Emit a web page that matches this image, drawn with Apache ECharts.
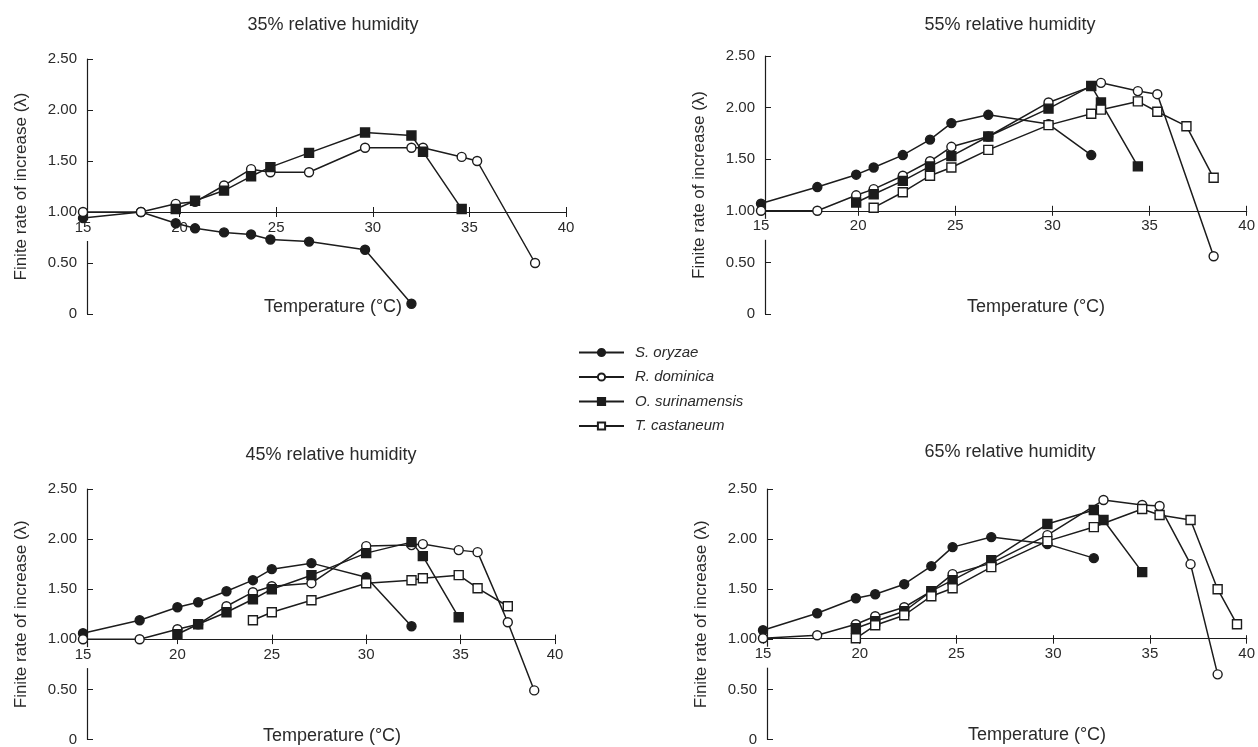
<!DOCTYPE html>
<html>
<head>
<meta charset="utf-8">
<title>Finite rate of increase</title>
<script src="https://cdn.jsdelivr.net/npm/echarts@6/dist/echarts.min.js"></script>
<style>
    html, body { margin: 0; background: #fff; }
    #chart { width: 1258px; height: 747px; }
</style>
</head>
<body>
<div id="chart"></div>
<script>
var species = ['S. oryzae', 'R. dominica', 'O. surinamensis', 'T. castaneum'];
var panelTitles = ['35% relative humidity', '55% relative humidity', '45% relative humidity', '65% relative humidity'];
var xTicks = [15, 20, 25, 30, 35, 40];
var yTicks = [0, 0.5, 1, 1.5, 2, 2.5];

// [temperature (°C), lambda]
var rh35_oryzae = [[15, 0.94], [18, 1.0], [19.8, 0.89], [20.8, 0.84], [22.3, 0.80], [23.7, 0.78], [24.7, 0.73], [26.7, 0.71], [29.6, 0.63], [32.0, 0.10]];
var rh35_dominica = [[15, 1.0], [18, 1.0], [19.8, 1.08], [20.8, 1.10], [22.3, 1.26], [23.7, 1.42], [24.7, 1.39], [26.7, 1.39], [29.6, 1.63], [32.0, 1.63], [32.6, 1.63], [34.6, 1.54], [35.4, 1.50], [38.4, 0.50]];
var rh35_surinamensis = [[19.8, 1.03], [20.8, 1.11], [22.3, 1.21], [23.7, 1.35], [24.7, 1.44], [26.7, 1.58], [29.6, 1.78], [32.0, 1.75], [32.6, 1.59], [34.6, 1.03]];
var rh35_castaneum = [];

var rh55_oryzae = [[15, 1.07], [17.9, 1.23], [19.9, 1.35], [20.8, 1.42], [22.3, 1.54], [23.7, 1.69], [24.8, 1.85], [26.7, 1.93], [29.8, 1.84], [32.0, 1.54]];
var rh55_dominica = [[15, 1.0], [17.9, 1.0], [19.9, 1.15], [20.8, 1.21], [22.3, 1.34], [23.7, 1.48], [24.8, 1.62], [26.7, 1.72], [29.8, 2.05], [32.5, 2.24], [34.4, 2.16], [35.4, 2.13], [38.3, 0.56]];
var rh55_surinamensis = [[19.9, 1.08], [20.8, 1.16], [22.3, 1.29], [23.7, 1.43], [24.8, 1.53], [26.7, 1.72], [29.8, 1.99], [32.0, 2.21], [32.5, 2.05], [34.4, 1.43]];
var rh55_castaneum = [[20.8, 1.03], [22.3, 1.18], [23.7, 1.34], [24.8, 1.42], [26.7, 1.59], [29.8, 1.83], [32.0, 1.94], [32.5, 1.98], [34.4, 2.06], [35.4, 1.96], [36.9, 1.82], [38.3, 1.32]];

var rh45_oryzae = [[15, 1.06], [18, 1.19], [20, 1.32], [21.1, 1.37], [22.6, 1.48], [24, 1.59], [25, 1.70], [27.1, 1.76], [30, 1.62], [32.4, 1.13]];
var rh45_dominica = [[15, 1.0], [18, 1.0], [20, 1.10], [21.1, 1.15], [22.6, 1.33], [24, 1.47], [25, 1.53], [27.1, 1.56], [30, 1.93], [32.4, 1.94], [33.0, 1.95], [34.9, 1.89], [35.9, 1.87], [37.5, 1.17], [38.9, 0.49]];
var rh45_surinamensis = [[20, 1.05], [21.1, 1.15], [22.6, 1.27], [24, 1.40], [25, 1.50], [27.1, 1.64], [30, 1.86], [32.4, 1.97], [33.0, 1.83], [34.9, 1.22]];
var rh45_castaneum = [[24, 1.19], [25, 1.27], [27.1, 1.39], [30, 1.56], [32.4, 1.59], [33.0, 1.61], [34.9, 1.64], [35.9, 1.51], [37.5, 1.33]];

var rh65_oryzae = [[15, 1.09], [17.8, 1.26], [19.8, 1.41], [20.8, 1.45], [22.3, 1.55], [23.7, 1.73], [24.8, 1.92], [26.8, 2.02], [29.7, 1.95], [32.1, 1.81]];
var rh65_dominica = [[15, 1.01], [17.8, 1.04], [19.8, 1.15], [20.8, 1.23], [22.3, 1.32], [23.7, 1.48], [24.8, 1.65], [26.8, 1.76], [29.7, 2.04], [32.6, 2.39], [34.6, 2.34], [35.5, 2.33], [37.1, 1.75], [38.5, 0.65]];
var rh65_surinamensis = [[19.8, 1.11], [20.8, 1.18], [22.3, 1.28], [23.7, 1.48], [24.8, 1.59], [26.8, 1.79], [29.7, 2.15], [32.1, 2.29], [32.6, 2.19], [34.6, 1.67]];
var rh65_castaneum = [[19.8, 1.01], [20.8, 1.14], [22.3, 1.24], [23.7, 1.43], [24.8, 1.51], [26.8, 1.72], [29.7, 1.98], [32.1, 2.12], [34.6, 2.30], [35.5, 2.24], [37.1, 2.19], [38.5, 1.50], [39.5, 1.15]];

var panelData = [
    [rh35_oryzae, rh35_dominica, rh35_surinamensis, rh35_castaneum],
    [rh55_oryzae, rh55_dominica, rh55_surinamensis, rh55_castaneum],
    [rh45_oryzae, rh45_dominica, rh45_surinamensis, rh45_castaneum],
    [rh65_oryzae, rh65_dominica, rh65_surinamensis, rh65_castaneum]
];

// grid boxes span x=15..40, y=0..2.5
var panels = [
    { left: 83, top: 59, width: 483, height: 255, titleX: 333, titleY: 25, nameX: 333, nameY: 307 },
    { left: 761, top: 56, width: 487, height: 258, titleX: 1010, titleY: 25, nameX: 1036, nameY: 307 },
    { left: 83, top: 489, width: 472, height: 251, titleX: 331, titleY: 455, nameX: 332, nameY: 736 },
    { left: 763, top: 489, width: 485, height: 252, titleX: 1010, titleY: 452, nameX: 1037, nameY: 735 }
];

var ink = '#1c1c1c';
var textInk = '#2a2a2a';
var fontFamily = '"Liberation Sans", Arial, sans-serif';

var markers = [
    { symbol: 'circle', fill: ink, size: 9 },
    { symbol: 'circle', fill: '#fff', size: 9 },
    { symbol: 'rect', fill: ink, size: 9 },
    { symbol: 'rect', fill: '#fff', size: 9 }
];

var grids = [], xAxes = [], yAxes = [], series = [], graphics = [];

panels.forEach(function (p, i) {
    grids.push({ left: p.left, top: p.top, width: p.width, height: p.height });
    // main x axis, crossing at lambda = 1.00
    xAxes.push({
        type: 'value',
        gridIndex: i,
        position: 'bottom',
        min: 15,
        max: 40,
        interval: 5,
        z: 1,
        offset: -p.height / 2.5,
        splitLine: { show: false },
        axisLine: { lineStyle: { color: ink, width: 1.2 } },
        axisTick: { length: 5, lineStyle: { color: ink } },
        axisLabel: {
            color: textInk,
            fontSize: 15,
            fontFamily: fontFamily,
            margin: 8,
            formatter: function (v) { return v === 15 ? '{g|15}' : String(v); },
            rich: { g: { backgroundColor: '#fff', padding: [0, 3, 6, 3], fontSize: 15, color: textInk, fontFamily: fontFamily } }
        }
    });
    // upper half of the crossing ticks
    xAxes.push({
        type: 'value',
        gridIndex: i,
        position: 'top',
        min: 15,
        max: 40,
        interval: 5,
        offset: -p.height * 1.5 / 2.5,
        splitLine: { show: false },
        axisLine: { show: false },
        axisTick: { show: true, length: 5, lineStyle: { color: ink } },
        axisLabel: { show: false }
    });
    yAxes.push({
        type: 'value',
        gridIndex: i,
        min: 0,
        max: 2.5,
        interval: 0.5,
        offset: -4,
        z: 0,
        splitLine: { show: false },
        axisLine: { show: true, lineStyle: { color: ink, width: 1.2 } },
        axisTick: { show: true, inside: true, length: 6, lineStyle: { color: ink } },
        axisLabel: {
            color: textInk,
            fontSize: 15,
            fontFamily: fontFamily,
            margin: 10,
            formatter: function (v) { return v === 0 ? '0' : v.toFixed(2); }
        },
        name: 'Finite rate of increase (λ)',
        nameLocation: 'middle',
        nameGap: 57,
        nameTextStyle: { color: textInk, fontSize: 17, fontFamily: fontFamily }
    });
    panelData[i].forEach(function (d, s) {
        series.push({
            name: species[s],
            type: 'line',
            xAxisIndex: i * 2,
            yAxisIndex: i,
            data: d,
            symbol: markers[s].symbol,
            symbolSize: markers[s].size,
            showAllSymbol: true,
            z: 2 + s,
            lineStyle: { color: ink, width: 1.5 },
            itemStyle: { color: markers[s].fill, borderColor: ink, borderWidth: 1.4 },
            emphasis: { disabled: true }
        });
    });
    graphics.push({
        type: 'text', x: p.titleX, y: p.titleY,
        style: { text: panelTitles[i], fill: textInk, font: '18px ' + fontFamily, textAlign: 'center', textVerticalAlign: 'middle' }
    });
    graphics.push({
        type: 'text', x: p.nameX, y: p.nameY,
        style: { text: 'Temperature (°C)', fill: textInk, font: '18px ' + fontFamily, textAlign: 'center', textVerticalAlign: 'middle' }
    });
});

var chart = echarts.init(document.getElementById('chart'), null, { renderer: 'canvas' });
chart.setOption({
    backgroundColor: '#fff',
    animation: false,
    grid: grids,
    xAxis: xAxes,
    yAxis: yAxes,
    series: series,
    graphic: graphics,
    legend: {
        data: species,
        orient: 'vertical',
        left: 573,
        top: 340,
        itemWidth: 45,
        itemHeight: 9,
        itemGap: 9.5,
        textStyle: { color: textInk, fontSize: 15, fontStyle: 'italic', fontFamily: fontFamily, padding: [0, 0, 0, 6] }
    }
});
</script>
</body>
</html>
